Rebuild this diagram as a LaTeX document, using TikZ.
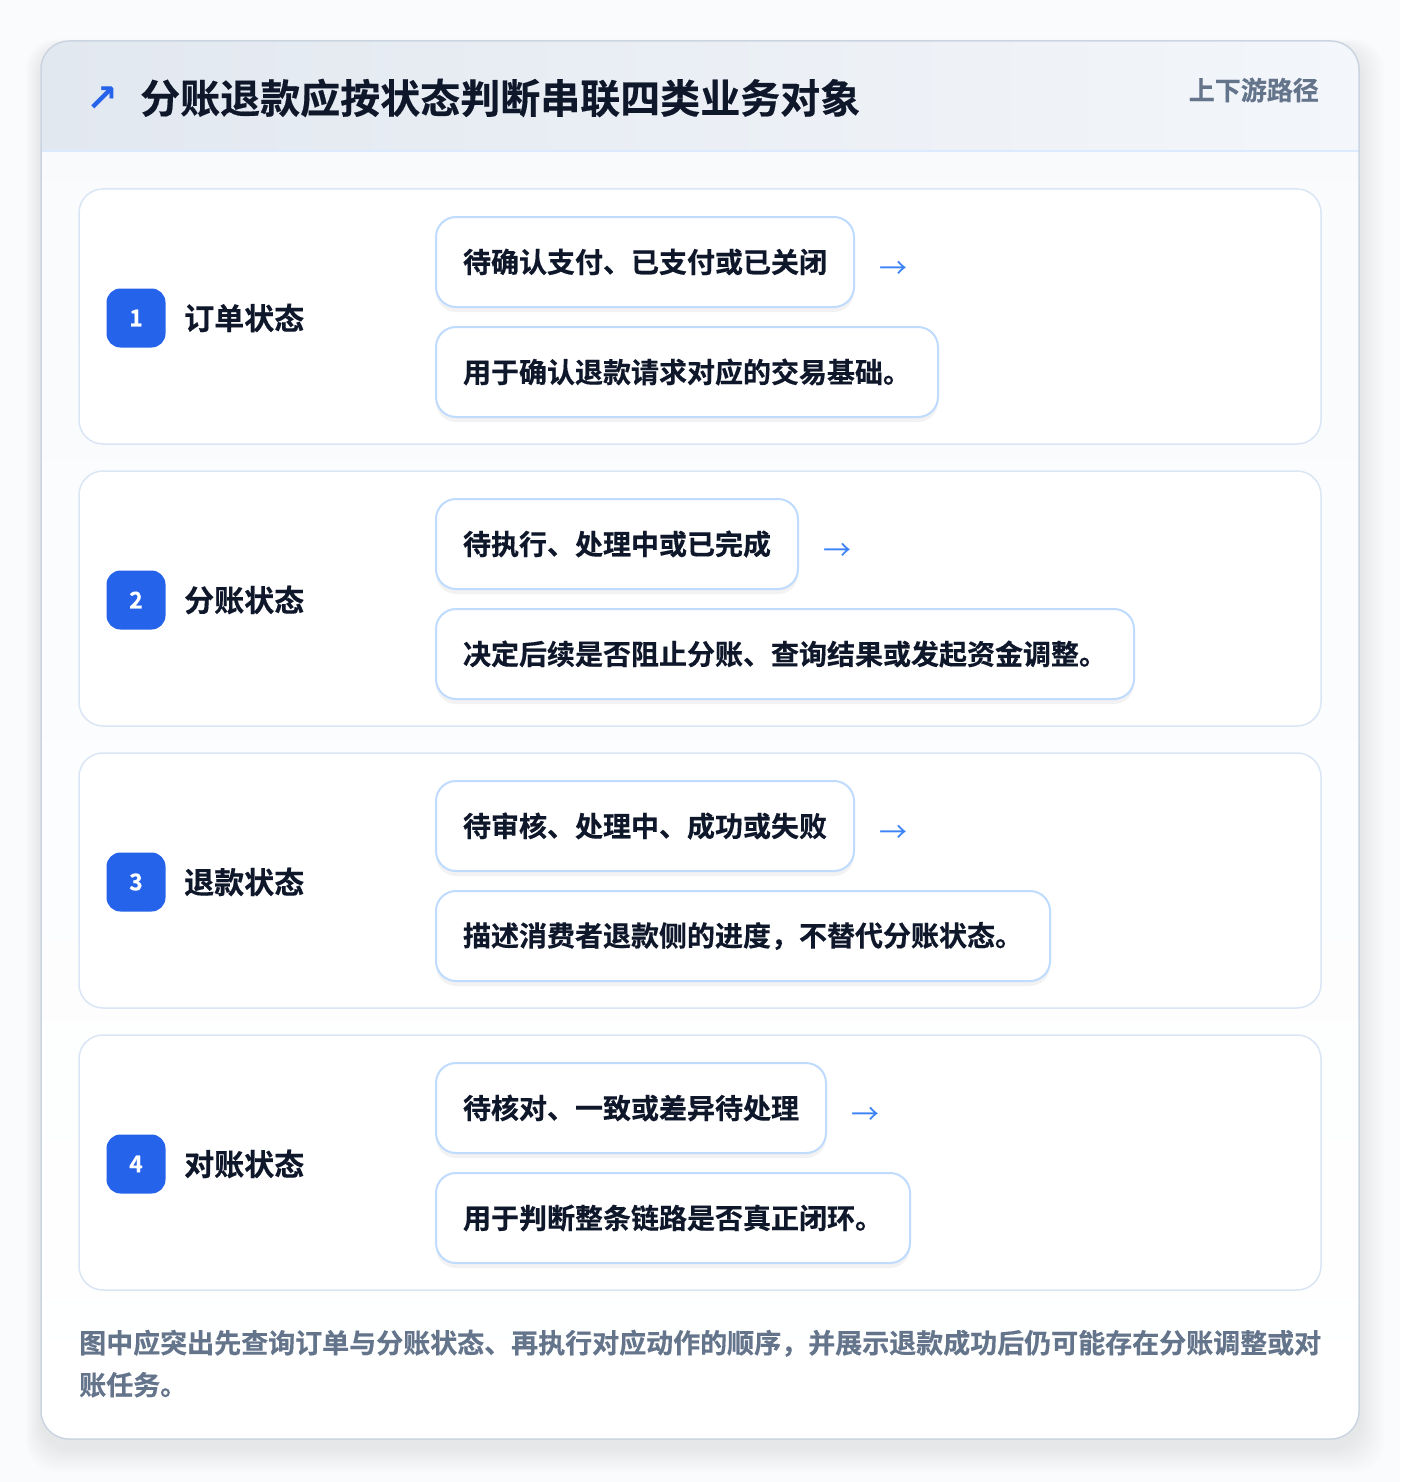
\documentclass[tikz,border=0pt]{standalone}
\usepackage{fontspec}
\setmainfont{Noto Sans CJK SC}[BoldFont={Noto Sans CJK SC Bold}, BoldFeatures={FakeBold=0.4}]
\newfontfamily\symfont{DejaVu Sans Bold}
\usetikzlibrary{calc,shadows}
\definecolor{bgc}{HTML}{FAFBFC}
\definecolor{cardborder}{HTML}{CBD5E1}
\definecolor{hdrL}{HTML}{E2E8F0}
\definecolor{hdrR}{HTML}{F3F6FA}
\definecolor{hdrline}{HTML}{DBEAFE}
\definecolor{bodytop}{HTML}{F8FAFC}
\definecolor{secborder}{HTML}{DAE6F5}
\definecolor{boxborder}{HTML}{BFDBFE}
\definecolor{badgec}{HTML}{2563EB}
\definecolor{ink}{HTML}{0F172A}
\definecolor{muted}{HTML}{64748B}
\definecolor{arrowc}{HTML}{3B82F6}
\tikzset{
  seccard/.style={draw=secborder, line width=1.5pt, fill=white, rounded corners=24pt},
  badge/.style={fill=badgec, rounded corners=14pt, minimum size=59pt, inner sep=0pt, text=white, font=\fontsize{23}{26}\selectfont\bfseries},
  seclabel/.style={inner sep=0pt, anchor=west, text=ink, font=\fontsize{30}{36}\selectfont\bfseries},
  statebox/.style={draw=boxborder, line width=2pt, fill=white, rounded corners=20pt, minimum height=90pt, inner xsep=27pt, inner ysep=0pt, anchor=west, text=ink, font=\fontsize{28}{34}\selectfont\bfseries,
    drop shadow={shadow xshift=0pt, shadow yshift=-5pt, opacity=0.05, fill=black}},
  flowarrow/.style={inner sep=0pt, anchor=west, text=arrowc, font=\fontsize{28}{34}\selectfont},
}
\begin{document}
\begin{tikzpicture}[x=1pt,y=-1pt]
\useasboundingbox (0,0) rectangle (1400,1482);
\fill[bgc] (0,0) rectangle (1400,1482);
% soft shadow of main card
\foreach \i in {1,...,10} {
  \fill[black, opacity=0.006, rounded corners=30pt] ({41-\i*1.5},{41-\i+8}) rectangle ({1359+\i*2.5},{1439+\i*2.5+8});
}
% main card
\path[rounded corners=28pt, top color=bodytop, bottom color=white] (41,41) rectangle (1359,1439);
\begin{scope}
  \clip[rounded corners=28pt] (41,41) rectangle (1359,1439);
  \fill[left color=hdrL, right color=hdrR] (41,41) rectangle (1359,151);
\end{scope}
\draw[hdrline, line width=1.5pt] (41,151) -- (1359,151);
\draw[cardborder, line width=1.5pt, rounded corners=28pt] (41,41) rectangle (1359,1439);
% header
\node[text=badgec, inner sep=0pt, font=\fontsize{38}{44}\selectfont\symfont] (tarrow) at (102,99) {↗};
\node[anchor=west, inner sep=0pt, text=ink, font=\fontsize{40}{48}\selectfont\bfseries] (title) at (140,98) {分账退款应按状态判断串联四类业务对象};
\node[anchor=east, inner sep=0pt, text=muted, font=\fontsize{26}{32}\selectfont\bfseries] (side) at (1319,90) {上下游路径};
% sections
\foreach \n/\lab/\ta/\tb in {
  1/订单状态/{待确认支付、已支付或已关闭}/{用于确认退款请求对应的交易基础。},
  2/分账状态/{待执行、处理中或已完成}/{决定后续是否阻止分账、查询结果或发起资金调整。},
  3/退款状态/{待审核、处理中、成功或失败}/{描述消费者退款侧的进度，不替代分账状态。},
  4/对账状态/{待核对、一致或差异待处理}/{用于判断整条链路是否真正闭环。}} {
  \pgfmathsetmacro\tp{189+282*(\n-1)}
  \draw[seccard] (79,\tp) rectangle (1321,\tp+255);
  \node[badge] (b\n) at (136,\tp+129) {\n};
  \node[seclabel] (l\n) at (184,\tp+129) {\lab};
  \node[statebox] (a\n) at (435,\tp+73) {\ta};
  \node[statebox] (c\n) at (435,\tp+183) {\tb};
  \node[flowarrow] (r\n) at ($(a\n.east)+(24,8)$) {→};
}
% footer
\node[anchor=base west, inner sep=0pt, text width=1300pt, align=left, text=muted, font=\fontsize{27}{42}\selectfont\bfseries] (foot) at (79,1353) {图中应突出先查询订单与分账状态、再执行对应动作的顺序，并展示退款成功后仍可能存在分账调整或对\\账任务。};
\end{tikzpicture}
\end{document}
